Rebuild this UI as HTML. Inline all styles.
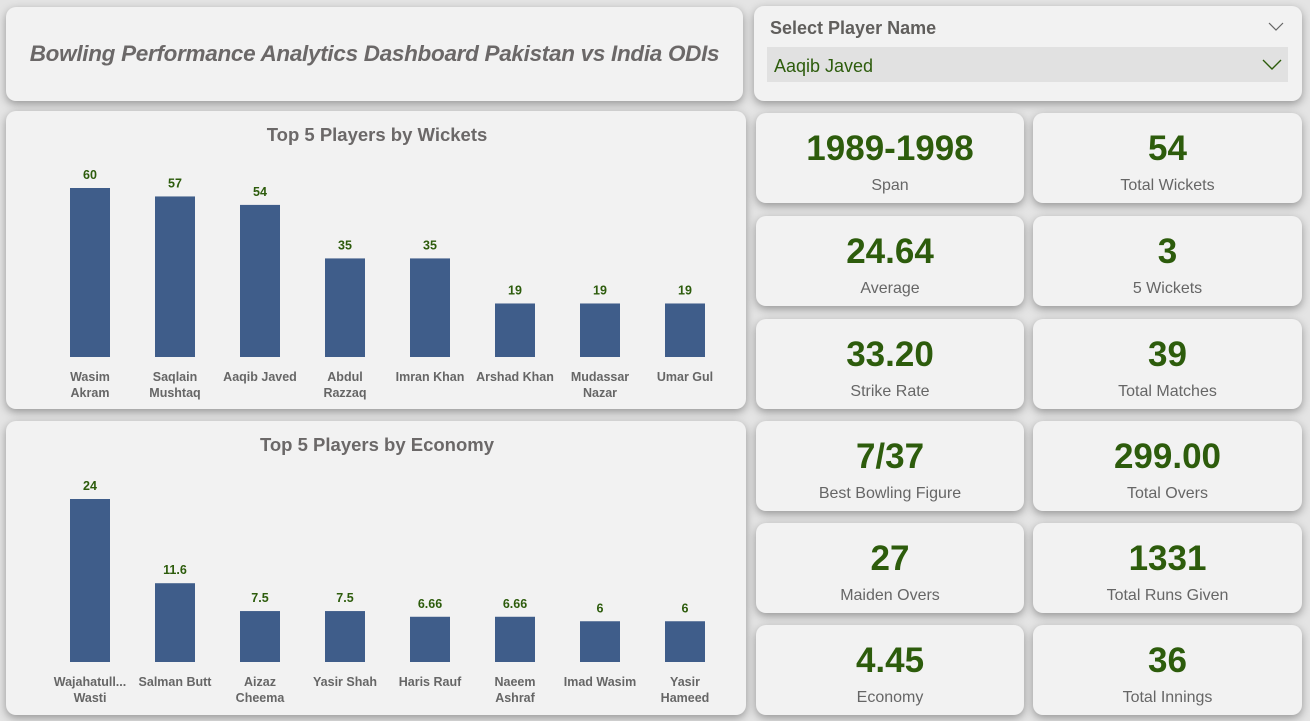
<!DOCTYPE html>
<html><head><meta charset="utf-8"><style>
*{box-sizing:border-box;margin:0;padding:0}
body{width:1310px;height:721px;background:#e4e4e4;position:relative;overflow:hidden;font-family:"Liberation Sans",sans-serif}
.card{position:absolute;background:#f2f2f2;border-radius:10px;box-shadow:0 3px 9px rgba(0,0,0,.35)}
.title{font-style:italic;font-weight:bold;color:#6b6868;font-size:22.5px;text-align:center;line-height:94px;letter-spacing:-0.3px}
.kpi{text-align:center}
.kpi .v{color:#2d5c0c;font-weight:bold;font-size:35px;position:absolute;left:0;right:0;top:16px}
.kpi .l{color:#666;font-size:16px;position:absolute;left:0;right:0;top:64px}
svg text{font-family:"Liberation Sans Narrow","Liberation Sans",sans-serif}
</style></head><body>
<div class="card title" style="left:6px;top:7px;width:737px;height:94px">Bowling Performance Analytics Dashboard Pakistan vs India ODIs</div>
<div class="card" style="left:754px;top:6px;width:548px;height:95px">
 <div style="position:absolute;left:16px;top:12px;font-weight:bold;font-size:18px;color:#605e5c">Select Player Name</div>
 <svg style="position:absolute;left:514px;top:16px" width="16" height="10"><polyline points="1,1 8,8 15,1" fill="none" stroke="#666" stroke-width="1.2"/></svg>
 <div style="position:absolute;left:13px;top:41px;width:521px;height:35px;background:#e1e1e1">
  <span style="position:absolute;left:7px;top:9px;font-size:18px;color:#2d5c0c">Aaqib Javed</span>
  <svg style="position:absolute;left:495px;top:12px" width="20" height="12"><polyline points="1,1 10,10 19,1" fill="none" stroke="#2d5c0c" stroke-width="1.4"/></svg>
 </div>
</div>
<div class="card" style="left:6px;top:111px;width:740px;height:298px"><svg id="c1" width="740" height="298"></svg></div>
<div class="card" style="left:6px;top:421px;width:740px;height:294px"><svg id="c2" width="740" height="294"></svg></div>
<div id="kpis"></div>
<script>
const wicketPlayers=[["Wasim","Akram"],["Saqlain","Mushtaq"],["Aaqib Javed"],["Abdul","Razzaq"],["Imran Khan"],["Arshad Khan"],["Mudassar","Nazar"],["Umar Gul"]];
const wicketValues=[60,57,54,35,35,19,19,19];
const wicketLabels=["60","57","54","35","35","19","19","19"];
const econPlayers=[["Wajahatull...","Wasti"],["Salman Butt"],["Aizaz","Cheema"],["Yasir Shah"],["Haris Rauf"],["Naeem","Ashraf"],["Imad Wasim"],["Yasir","Hameed"]];
const econValues=[24,11.6,7.5,7.5,6.66,6.66,6,6];
const econLabels=["24","11.6","7.5","7.5","6.66","6.66","6","6"];
const kpiValues=["1989-1998","54","24.64","3","33.20","39","7/37","299.00","27","1331","4.45","36"];
const kpiNames=["Span","Total Wickets","Average","5 Wickets","Strike Rate","Total Matches","Best Bowling Figure","Total Overs","Maiden Overs","Total Runs Given","Economy","Total Innings"];
const NS="http://www.w3.org/2000/svg";
function mk(t,a,p){const e=document.createElementNS(NS,t);for(const k in a)e.setAttribute(k,a[k]);p.appendChild(e);return e;}
function chart(id,title,cats,vals,labs,base,maxV,h){
 const s=document.getElementById(id);
 const t=mk('text',{x:371,y:30,'text-anchor':'middle','font-size':18.5,'font-weight':'bold',fill:'#6b6868'},s);t.textContent=title;
 
 
 const x=i=>84+i*85, y=v=>base-v/maxV*h;
 vals.forEach((v,i)=>{
  const r=mk('rect',{x:x(i)-20,y:y(v),width:40,height:base-y(v),fill:'#3f5d8a'},s);
  
  
  const l=mk('text',{x:x(i),y:y(v)-9,'text-anchor':'middle','font-size':12.5,'font-weight':'bold',fill:'#2d5c0c'},s);l.textContent=labs[i];
  
  
  cats[i].forEach((c,j)=>{const ct=mk('text',{x:x(i),y:base+24+j*16,'text-anchor':'middle','font-size':12.5,'font-weight':'bold',fill:'#666'},s);ct.textContent=c;
   
   });
 });
}
chart('c1','Top 5 Players by Wickets',wicketPlayers,wicketValues,wicketLabels,246,60,169);
chart('c2','Top 5 Players by Economy',econPlayers,econValues,econLabels,241,24,163);
const tops=[113,216,319,421,523,625];
const k=document.getElementById('kpis');
kpiValues.forEach((v,i)=>{
 const d=document.createElement('div');d.className='card kpi';
 
 
 const c=i%2;d.style.left=(c?1033:756)+'px';d.style.top=tops[i>>1]+'px';d.style.width=(c?269:268)+'px';d.style.height='90px';
 d.innerHTML='<div class="v">'+v+'</div><div class="l">'+kpiNames[i]+'</div>';
 k.appendChild(d);
});
</script>
</body></html>
